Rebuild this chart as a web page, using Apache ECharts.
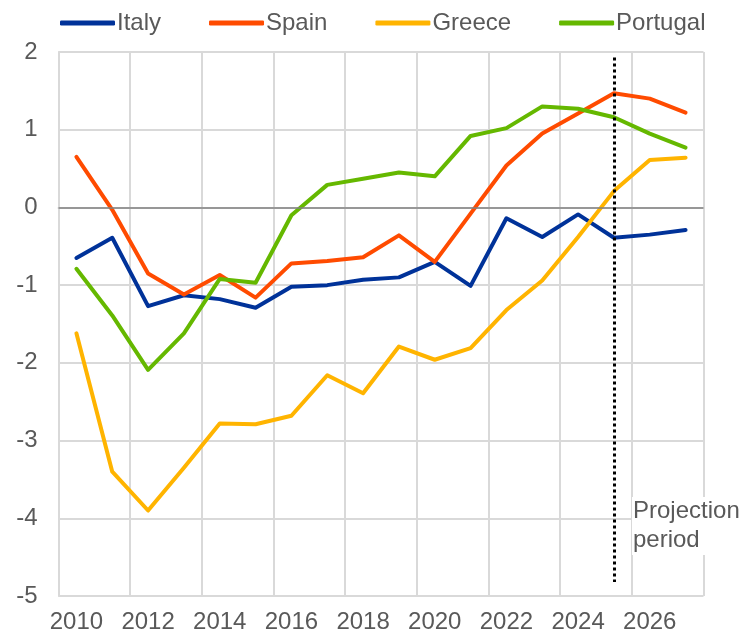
<!DOCTYPE html>
<html>
<head>
<meta charset="utf-8">
<script src="https://cdn.jsdelivr.net/npm/echarts@6/dist/echarts.min.js"></script>
<style>
  html, body { margin: 0; padding: 0; background: #fff; }
  #chart { width: 752px; height: 636px; }
</style>
</head>
<body>
<div id="chart"></div>
<script>
// Data
const years = ['2010', '2011', '2012', '2013', '2014', '2015', '2016', '2017', '2018',
  '2019', '2020', '2021', '2022', '2023', '2024', '2025', '2026', '2027']
const italy = [-0.65, -0.39, -1.27, -1.13, -1.18, -1.29, -1.02, -1.00, -0.93,
  -0.90, -0.70, -1.01, -0.14, -0.38, -0.09, -0.39, -0.35, -0.29]
const spain = [0.65, -0.03, -0.85, -1.12, -0.87, -1.16, -0.72, -0.69, -0.64,
  -0.36, -0.70, -0.08, 0.54, 0.95, 1.21, 1.47, 1.40, 1.22]
const greece = [-1.62, -3.40, -3.90, -3.35, -2.78, -2.79, -2.68, -2.16, -2.39,
  -1.79, -1.96, -1.81, -1.32, -0.94, -0.38, 0.21, 0.61, 0.64]
const portugal = [-0.79, -1.39, -2.09, -1.62, -0.92, -0.97, -0.10, 0.29, 0.37,
  0.45, 0.40, 0.92, 1.02, 1.30, 1.27, 1.16, 0.95, 0.77]
const projectionStart = '2025'
const projectionSpan = [1.93, -4.82]

const palette = {
  italy: '#003299',
  spain: '#FF4B00',
  greece: '#FFB400',
  portugal: '#65B800',
  text: '#595959',
  grid: '#d9d9d9',
  zero: '#808080',
}
const font = 'Arial, "Liberation Sans", sans-serif'
const fontSize = 24

function lineSeries(name, data, color, extra) {
  return Object.assign({
    name,
    type: 'line',
    data,
    showSymbol: false,
    symbol: 'none',
    lineStyle: { color, width: 4, cap: 'round', join: 'round' },
    itemStyle: { color },
    emphasis: { disabled: true },
    animation: false,
  }, extra || {})
}

const chart = echarts.init(document.getElementById('chart'))
chart.setOption({
  animation: false,
  textStyle: { fontFamily: font },
  grid: { left: 58.5, right: 48.5, top: 52, bottom: 40, containLabel: false },
  legend: {
    left: 55,
    top: 6,
    itemWidth: 55,
    itemHeight: 5,
    itemGap: 48,
    icon: 'roundRect',
    textStyle: { color: palette.text, fontSize, fontFamily: font, padding: [0, 0, 0, -3] },
    data: ['Italy', 'Spain', 'Greece', 'Portugal'],
  },
  xAxis: {
    type: 'category',
    data: years,
    boundaryGap: true,
    axisLine: { show: true, lineStyle: { color: palette.grid, width: 2 } },
    axisTick: { show: false, interval: 1 },
    axisLabel: { interval: 1, color: palette.text, fontSize, margin: 14, fontFamily: font },
    splitLine: { show: true, interval: 1, lineStyle: { color: palette.grid, width: 2 } },
  },
  yAxis: {
    type: 'value',
    min: -5,
    max: 2,
    interval: 1,
    axisLine: { show: true, lineStyle: { color: palette.grid, width: 2 } },
    axisTick: { show: false },
    axisLabel: { color: palette.text, fontSize, margin: 21, fontFamily: font },
    splitLine: { show: true, lineStyle: { color: palette.grid, width: 2 } },
  },
  series: [
    lineSeries('Italy', italy, palette.italy, {
      markLine: {
        silent: true,
        symbol: 'none',
        label: { show: false },
        lineStyle: { color: palette.zero, width: 1.5, type: 'solid' },
        data: [{ yAxis: 0 }],
      },
    }),
    lineSeries('Spain', spain, palette.spain),
    lineSeries('Greece', greece, palette.greece),
    lineSeries('Portugal', portugal, palette.portugal, {
      markLine: {
        silent: true,
        symbol: 'none',
        label: { show: false },
        lineStyle: { color: '#000', width: 3, type: [3, 3] },
        data: [[
          { coord: [projectionStart, projectionSpan[0]] },
          { coord: [projectionStart, projectionSpan[1]] },
        ]],
      },
    }),
  ],
  graphic: [{
    type: 'text',
    left: 632,
    top: 497,
    z: 100,
    style: {
      text: 'Projection\nperiod',
      fill: palette.text,
      font: fontSize + 'px ' + font,
      lineHeight: 29,
      backgroundColor: '#fff',
      padding: [0, 4, 0, 1],
    },
  }],
})
</script>
</body>
</html>
